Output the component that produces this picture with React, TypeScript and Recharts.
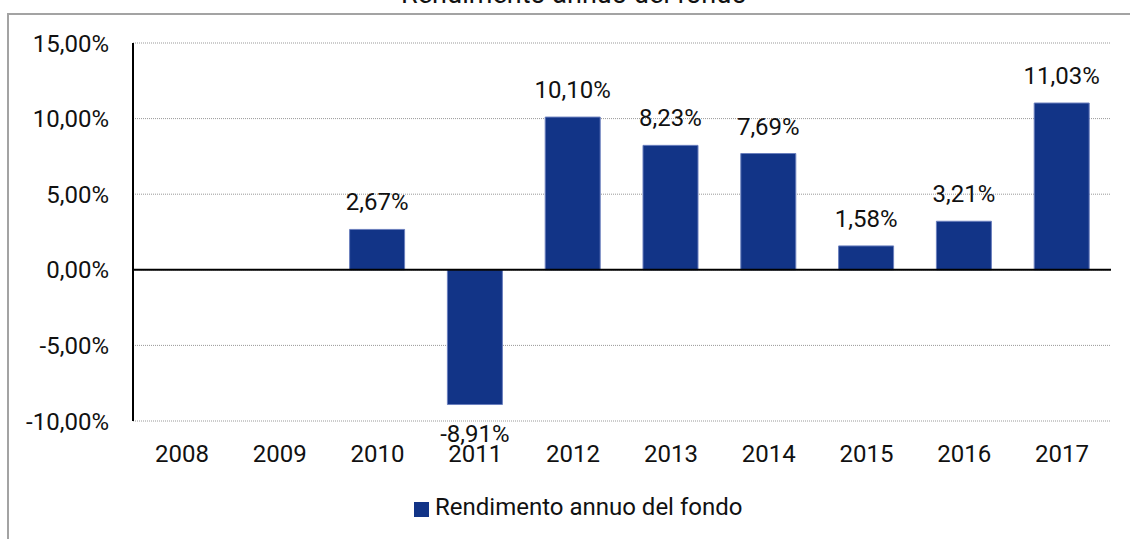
import { BarChart, Bar, XAxis, YAxis, CartesianGrid, Legend, LabelList, ReferenceLine } from "recharts";

const years = ["2008", "2009", "2010", "2011", "2012", "2013", "2014", "2015", "2016", "2017"];
const rendimento = [null, null, 2.67, -8.91, 10.1, 8.23, 7.69, 1.58, 3.21, 11.03];
const yTicks = [-10, -5, 0, 5, 10, 15];

const data = years.map((y, i) => ({ year: y, value: rendimento[i] }));

const FONT = "Roboto, 'Noto Sans', sans-serif";
const BLUE = "#123487";

const pct = (v: number) => v.toFixed(2).replace(".", ",") + "%";

const BarLabel = (props: any) => {
  const { x, y, width, height, value } = props;
  if (value === null || value === undefined) return null;
  const top = Math.min(y, y + height);
  const bottom = Math.max(y, y + height);
  const ty = value >= 0 ? top - 19 : bottom + 37;
  return (
    <text x={x + width / 2} y={ty} textAnchor="middle" fontSize={24} fontFamily={FONT} fill="#111">
      {pct(value)}
    </text>
  );
};

const LegendBox = () => (
  <div style={{ display: "flex", alignItems: "flex-start", fontFamily: FONT, fontSize: 24, lineHeight: "28px", color: "#111" }}>
    <span style={{ display: "inline-block", width: 15, height: 15, background: BLUE, marginTop: 9, marginRight: 6 }} />
    <span>Rendimento annuo del fondo</span>
  </div>
);

export default function App() {
  return (
    <div style={{ position: "absolute", left: 0, top: 0, width: 1130, height: 539, overflow: "hidden", background: "#fff" }}>
      <div style={{ position: "absolute", left: 7, top: 13, width: 1200, height: 700, borderLeft: "2px solid #a3a3a3", borderTop: "2px solid #a3a3a3" }} />
      <div style={{ position: "absolute", left: 0, width: 1148, top: -22, textAlign: "center", fontFamily: FONT, fontSize: 27, lineHeight: "32px", color: "#111" }}>
        Rendimento annuo del fondo
      </div>
      <BarChart width={1130} height={539} data={data} margin={{ top: 43, right: 19, bottom: 58, left: 0 }} style={{ position: "absolute", left: 0, top: 0 }}>
        <CartesianGrid vertical={false} stroke="#999" strokeDasharray="1 1" />
        <XAxis dataKey="year" axisLine={false} tickLine={false} tickSize={0} tickMargin={24} height={60} interval={0}
          tick={{ fontSize: 24, fontFamily: FONT, fill: "#111" }} />
        <YAxis domain={[-10, 15]} ticks={yTicks} width={133} tickFormatter={pct} tickLine={false} tickSize={0} tickMargin={24}
          axisLine={{ stroke: "#000", strokeWidth: 2 }} tick={{ fontSize: 24, fontFamily: FONT, fill: "#111" }} interval={0} />
        <ReferenceLine y={0} stroke="#000" strokeWidth={2} />
        <Legend layout="horizontal" verticalAlign="middle" align="center" content={<LegendBox />}
          wrapperStyle={{ left: 414, top: 493, width: 400, height: 28 }} />
        <Bar dataKey="value" name="Rendimento annuo del fondo" fill={BLUE} stroke="#6a7fbd" strokeWidth={1} barSize={55} isAnimationActive={false}>
          <LabelList dataKey="value" content={<BarLabel />} />
        </Bar>
      </BarChart>
    </div>
  );
}
